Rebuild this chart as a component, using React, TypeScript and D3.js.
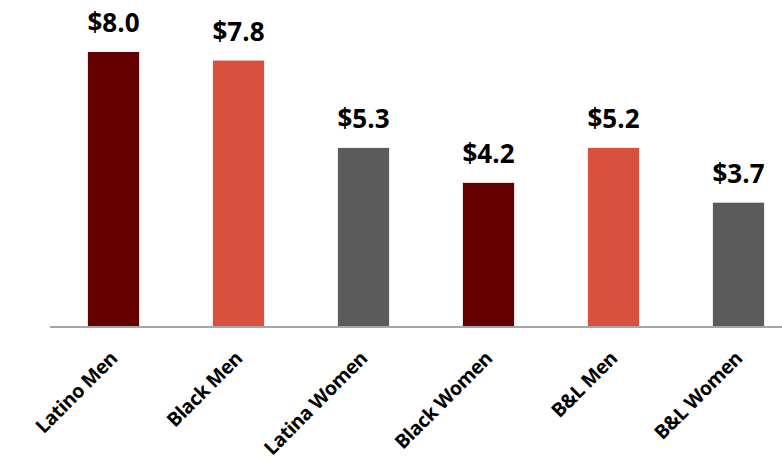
import React from "react";
import * as d3 from "d3";

const categories = ["Latino Men", "Black Men", "Latina Women", "Black Women", "B&L Men", "B&L Women"];
const values = [8.0, 7.75, 5.2, 4.18, 5.2, 3.6];
const valueLabels = ["$8.0", "$7.8", "$5.3", "$4.2", "$5.2", "$3.7"];
const barColors = ["#640000", "#D9503F", "#5B5B5B", "#640000", "#D9503F", "#5B5B5B"];

export default function App() {
  const width = 782;
  const height = 465;
  const baseline = 326;

  const x = d3.scaleBand<string>()
    .domain(categories)
    .range([51, 801])
    .paddingInner(0.59)
    .paddingOuter(0.295);

  const y = d3.scaleLinear()
    .domain([0, 8])
    .range([baseline, 52]);

  return (
    <svg
      width={width}
      height={height}
      style={{ position: "absolute", left: 0, top: 0, background: "#fff" }}
      fontFamily="'Open Sans', sans-serif"
    >
      {/* bars */}
      {categories.map((c, i) => (
        <rect
          key={c}
          x={x(c)}
          y={y(values[i])}
          width={x.bandwidth()}
          height={baseline - y(values[i])}
          fill={barColors[i]}
        />
      ))}

      {/* value labels */}
      {categories.map((c, i) => (
        <text
          key={"v" + c}
          x={(x(c) ?? 0) + x.bandwidth() / 2}
          y={y(values[i]) - 20}
          textAnchor="middle"
          fontSize={26}
          fontWeight={700}
          fill="#000"
        >
          {valueLabels[i]}
        </text>
      ))}

      {/* axis line */}
      <line x1={50} x2={width} y1={baseline + 1} y2={baseline + 1} stroke="#A6A6A6" strokeWidth={2} />

      {/* category labels, rotated like the reference */}
      {categories.map((c) => {
        const cx = (x(c) ?? 0) + x.bandwidth() / 2 - 4.5;
        const cy = 350;
        return (
          <text
            key={"c" + c}
            transform={`translate(${cx},${cy}) rotate(-45)`}
            textAnchor="end"
            dy="0.7em"
            fontSize={19.5}
            fontWeight={700}
            letterSpacing={-0.4}
            fill="#000"
          >
            {c}
          </text>
        );
      })}
    </svg>
  );
}
